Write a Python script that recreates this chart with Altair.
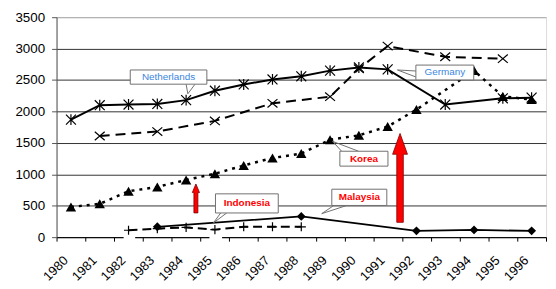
import altair as alt
import pandas as pd

# ---------------- data ----------------
years = list(range(1980, 1997))

nl_years = [1980, 1981, 1982, 1983, 1984, 1985, 1986, 1987, 1988, 1989, 1990, 1991, 1993, 1995, 1996]
nl_vals = [1870, 2100, 2110, 2120, 2180, 2330, 2430, 2510, 2560, 2650, 2700, 2670, 2110, 2210, 2220]

de_years = [1981, 1983, 1985, 1987, 1989, 1990, 1991, 1993, 1995]
de_vals = [1610, 1680, 1850, 2130, 2235, 2680, 3040, 2870, 2840]

kr_years = [1980, 1981, 1982, 1983, 1984, 1985, 1986, 1987, 1988, 1989, 1990, 1991, 1992, 1994, 1995, 1996]
kr_vals = [480, 530, 730, 800, 910, 1010, 1140, 1260, 1330, 1550, 1620, 1760, 2030, 2650, 2240, 2190]

my_years = [1983, 1988, 1992, 1994, 1996]
my_vals = [165, 330, 100, 115, 100]

id_years = [1982, 1983, 1984, 1985, 1986, 1987, 1988]
id_vals = [110, 135, 155, 120, 165, 165, 165]

y_ticks = [0, 500, 1000, 1500, 2000, 2500, 3000, 3500]

# callout labels (positions in year-index / value units)
box_names = ["Netherlands", "Germany", "Korea", "Indonesia", "Malaysia"]
box_i = [2.06, 11.98, 9.34, 5.02, 9.06]
box_i2 = [4.72, 13.99, 11.01, 7.20, 10.97]
box_v = [2660, 2738, 1367, 689, 763]
box_v2 = [2434, 2502, 1130, 385, 504]
box_weight = ["normal", "normal", "bold", "bold", "bold"]

# callout tails: tip (i, v) and two base points on the box edge
tail_tip_i = [4.06, 11.34, 9.09, 4.95, 8.71]
tail_tip_v = [2281, 2660, 1524, 227, 374]
tail_b1_i = [4.00, 11.98, 9.40, 5.20, 9.13]
tail_b1_v = [2434, 2644, 1367, 385, 504]
tail_b2_i = [4.31, 11.98, 9.99, 5.41, 9.58]
tail_b2_v = [2434, 2549, 1367, 385, 504]

# red arrows
arrow_i = [4.34, 11.43]
arrow_v = [616, 943]

# ---------------- frames ----------------
def frame(yrs, vals):
    return pd.DataFrame({"i": [y - 1980 for y in yrs], "v": vals})

nl = frame(nl_years, nl_vals)
de = frame(de_years, de_vals)
kr = frame(kr_years, kr_vals)
my = frame(my_years, my_vals)
idn = frame(id_years, id_vals)

boxes = pd.DataFrame({"i": box_i, "i2": box_i2, "v": box_v, "v2": box_v2,
                      "name": box_names, "weight": box_weight})
texts = pd.DataFrame({"i": [(a + b) / 2 for a, b in zip(box_i, box_i2)],
                      "v": [(a + b) / 2 for a, b in zip(box_v, box_v2)],
                      "name": box_names, "weight": box_weight})

tails = pd.DataFrame({
    "i": tail_tip_i + tail_tip_i,
    "v": tail_tip_v + tail_tip_v,
    "i2": tail_b1_i + tail_b2_i,
    "v2": tail_b1_v + tail_b2_v,
})

FONT = "Liberation Sans"

X = alt.X(
    "i:Q",
    scale=alt.Scale(domain=[-0.5, 16.5], nice=False, zero=False),
    axis=alt.Axis(
        values=[k - 0.5 for k in range(18)],
        labelExpr="datum.value < 16 ? '' + round(datum.value + 1980.5) : ''",
        labelAngle=-45, labelAlign="right", labelBaseline="middle",
        labelOffset=9, labelPadding=17, tickSize=4, labelOverlap=False,
        labelFlush=False, labelBound=False,
        domainColor="#000000", tickColor="#000000", grid=False, title=None,
        labelFont=FONT, labelFontSize=13, labelColor="#000000",
    ),
)
Y = alt.Y(
    "v:Q",
    scale=alt.Scale(domain=[0, 3500], nice=False),
    axis=alt.Axis(
        values=y_ticks, format="d", title=None, labelFont=FONT, labelFontSize=13.5,
        labelColor="#000000", tickSize=5, labelPadding=7, labelFlush=False,
        labelOverlap=False,
        domainColor="#555555", tickColor="#555555",
        gridColor={"condition": {"test": "datum.value === 3500", "value": "#a6a6a6"},
                   "value": "#333333"},
        gridWidth=1,
    ),
)

ASTER = "M-1,-1L1,1M-1,1L1,-1M0,-1.1L0,1.1"
XSYM = "M-1,-0.85L1,0.85M-1,0.85L1,-0.85"
PLUS = "M-1,0L1,0M0,-1L0,1"


def series(df, width, dash, shape, size, filled):
    kw = dict(color="black", strokeWidth=width)
    if dash:
        kw["strokeDash"] = dash
    line = alt.Chart(df).mark_line(**kw).encode(x=X, y=Y)
    pts = alt.Chart(df).mark_point(shape=shape, size=size, filled=filled, color="black",
                                   strokeWidth=1.2, opacity=1).encode(x=X, y=Y)
    return [line, pts]


# white patches around two Indonesia markers that hide the axis line
patches = pd.DataFrame({"i": [1.83, 4.81], "i2": [2.23, 5.25], "v": [-52, -52], "v2": [169, 153]})
patch_layer = alt.Chart(patches).mark_rect(fill="white").encode(x=X, x2="i2", y=Y, y2="v2")

layers = [patch_layer]
layers += series(nl, 2, None, ASTER, 100, False)
layers += series(de, 2, [10, 6], XSYM, 100, False)
layers += series(kr, 2.5, [3, 5], "triangle-up", 110, True)
layers += series(my, 1.8, None, "diamond", 80, True)
layers += series(idn, 2, [9, 5], PLUS, 85, False)

tail_layer = alt.Chart(tails).mark_rule(color="#707070", strokeWidth=1).encode(
    x=X, x2="i2", y=Y, y2="v2")
box_layer = alt.Chart(boxes).mark_rect(fill="white", stroke="#707070", strokeWidth=1).encode(
    x=X, x2="i2", y=Y, y2="v2")
blue_text = alt.Chart(texts[texts["weight"] == "normal"]).mark_text(
    font=FONT, fontSize=10, color="#3a86e0", align="center", baseline="middle").encode(
    x=X, y=Y, text="name:N")
red_text = alt.Chart(texts[texts["weight"] == "bold"]).mark_text(
    font=FONT, fontSize=10, fontWeight="bold", color="#ff0000", align="center",
    baseline="middle").encode(x=X, y=Y, text="name:N")

SMALL_ARROW = "M0,-4.01L1,-1.63L0.55,-1.63L0.55,4.01L-0.55,4.01L-0.55,-1.63L-1,-1.63Z"
BIG_ARROW = "M0,-5.98L1,-3.18L0.44,-3.18L0.44,5.98L-0.44,5.98L-0.44,-3.18L-1,-3.18Z"
arrows = pd.DataFrame({"i": arrow_i, "v": arrow_v})
small_arrow = alt.Chart(arrows.iloc[[0]]).mark_point(
    shape=SMALL_ARROW, size=53, filled=True, fill="#ff0000", stroke="#7a0000",
    strokeWidth=0.8, opacity=1).encode(x=X, y=Y)
big_arrow = alt.Chart(arrows.iloc[[1]]).mark_point(
    shape=BIG_ARROW, size=225, filled=True, fill="#ff0000", stroke="#7a0000",
    strokeWidth=0.8, opacity=1).encode(x=X, y=Y)

layers += [tail_layer, box_layer, blue_text, red_text, small_arrow, big_arrow]

chart = alt.layer(*layers).properties(
    width=494, height=222,
    autosize=alt.AutoSizeParams(type="none"),
    padding={"left": 49, "top": 8, "right": 2, "bottom": 46},
).configure_view(stroke="#a6a6a6", strokeWidth=1).configure(background="white")

chart.save("out.html", embed_options={"renderer": "svg", "actions": False})
